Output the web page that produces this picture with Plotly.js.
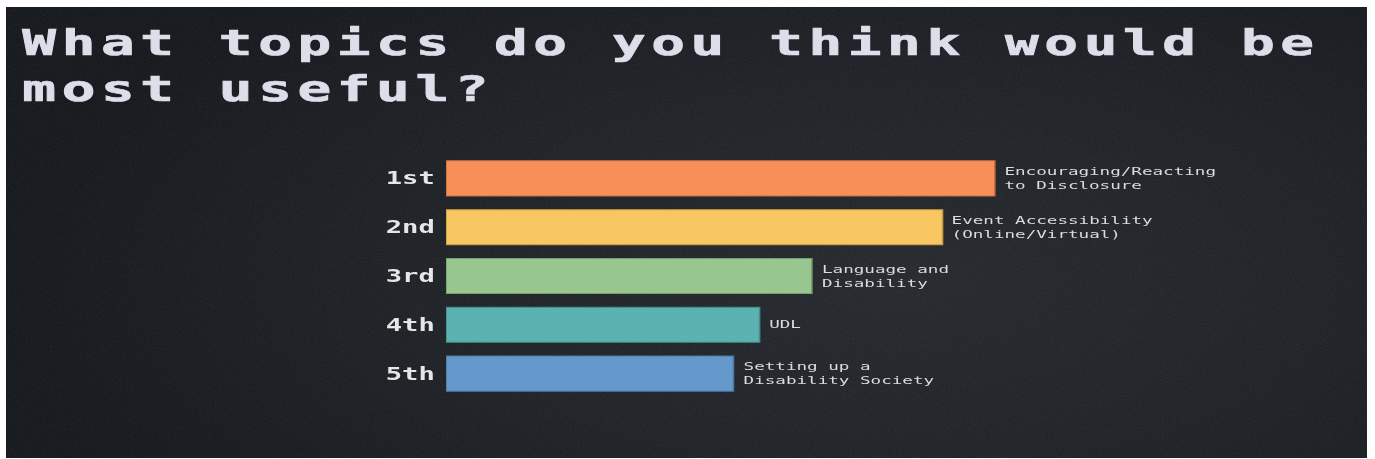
<!DOCTYPE html>
<html>
<head>
<meta charset="utf-8">
<script src="https://cdn.plot.ly/plotly-3.0.1.min.js"></script>
<style>
  html, body { margin: 0; padding: 0; background: #ffffff; width: 1375px; height: 459px; overflow: hidden; }
  #frame {
    position: absolute; left: 6px; top: 7px; width: 1361px; height: 451px; overflow: hidden;
    background-color: #181c21;
    background-image:
      url("data:image/svg+xml;utf8,<svg xmlns='http://www.w3.org/2000/svg' width='1361' height='451'><filter id='n'><feTurbulence type='fractalNoise' baseFrequency='0.85' numOctaves='2' stitchTiles='stitch'/><feColorMatrix values='0 0 0 0 1  0 0 0 0 1  0 0 0 0 1  0 0 0 0.08 0'/></filter><rect width='100%' height='100%' filter='url(%23n)'/></svg>"),
      radial-gradient(ellipse 65% 85% at 65% 60%, #212428 0%, #1a1d22 50%, #101317 100%);
  }
  #chart { position: absolute; left: 0; top: 0; width: 851px; height: 451px; transform: scaleX(1.6); transform-origin: 0 0; }
  #chart .gtitle { letter-spacing: 3.5px; stroke: #dcdeea; stroke-width: 0.7px; }
</style>
</head>
<body>
<div id="frame"><div id="chart"></div></div>
<script>
const ranks = ["1st", "2nd", "3rd", "4th", "5th"];
const topics = [
  "Encouraging/Reacting<br>to Disclosure",
  "Event Accessibility<br>(Online/Virtual)",
  "Language and<br>Disability",
  "UDL",
  "Setting up a<br>Disability Society"
];
const scores = [21, 19, 14, 12, 11];
const colors = ["#f98f58", "#f8c762", "#97c68e", "#5bb2b0", "#6699cb"];
const outlines = ["#c8703f", "#c99e48", "#76a06e", "#438f8d", "#4d78a4"];

const trace = {
  type: "bar",
  orientation: "h",
  y: ranks,
  x: scores,
  width: 0.72,
  marker: { color: colors, line: { color: outlines, width: 1 } },
  hoverinfo: "skip"
};

const annotations = ranks.map((r, i) => ({
  x: scores[i], y: r, xref: "x", yref: "y",
  text: topics[i], showarrow: false,
  xanchor: "left", yanchor: "middle", align: "left", xshift: 4,
  font: { family: "DejaVu Sans Mono", size: 11, color: "#dcdcdc" }
}));

const layout = {
  width: 851, height: 451,
  paper_bgcolor: "rgba(0,0,0,0)", plot_bgcolor: "rgba(0,0,0,0)",
  margin: { l: 275, r: 86, t: 147, b: 60 },
  title: {
    text: "What topics do you think would be<br>most useful?",
    xref: "container", yref: "container", x: 0.012, xanchor: "left",
    y: 0.893, yanchor: "top",
    font: { family: "DejaVu Sans Mono", size: 35, weight: "bold", color: "#dcdeea" }
  },
  xaxis: { range: [0, 30], visible: false, fixedrange: true },
  yaxis: {
    autorange: "reversed", showgrid: false, zeroline: false, showline: false,
    ticks: "", ticklabelstandoff: 6,
    tickfont: { family: "DejaVu Sans Mono", size: 17, weight: "bold", color: "#e6e6e6" }
  },
  showlegend: false,
  annotations: annotations
};

Plotly.newPlot("chart", [trace], layout, { displayModeBar: false, staticPlot: true });
</script>
</body>
</html>
